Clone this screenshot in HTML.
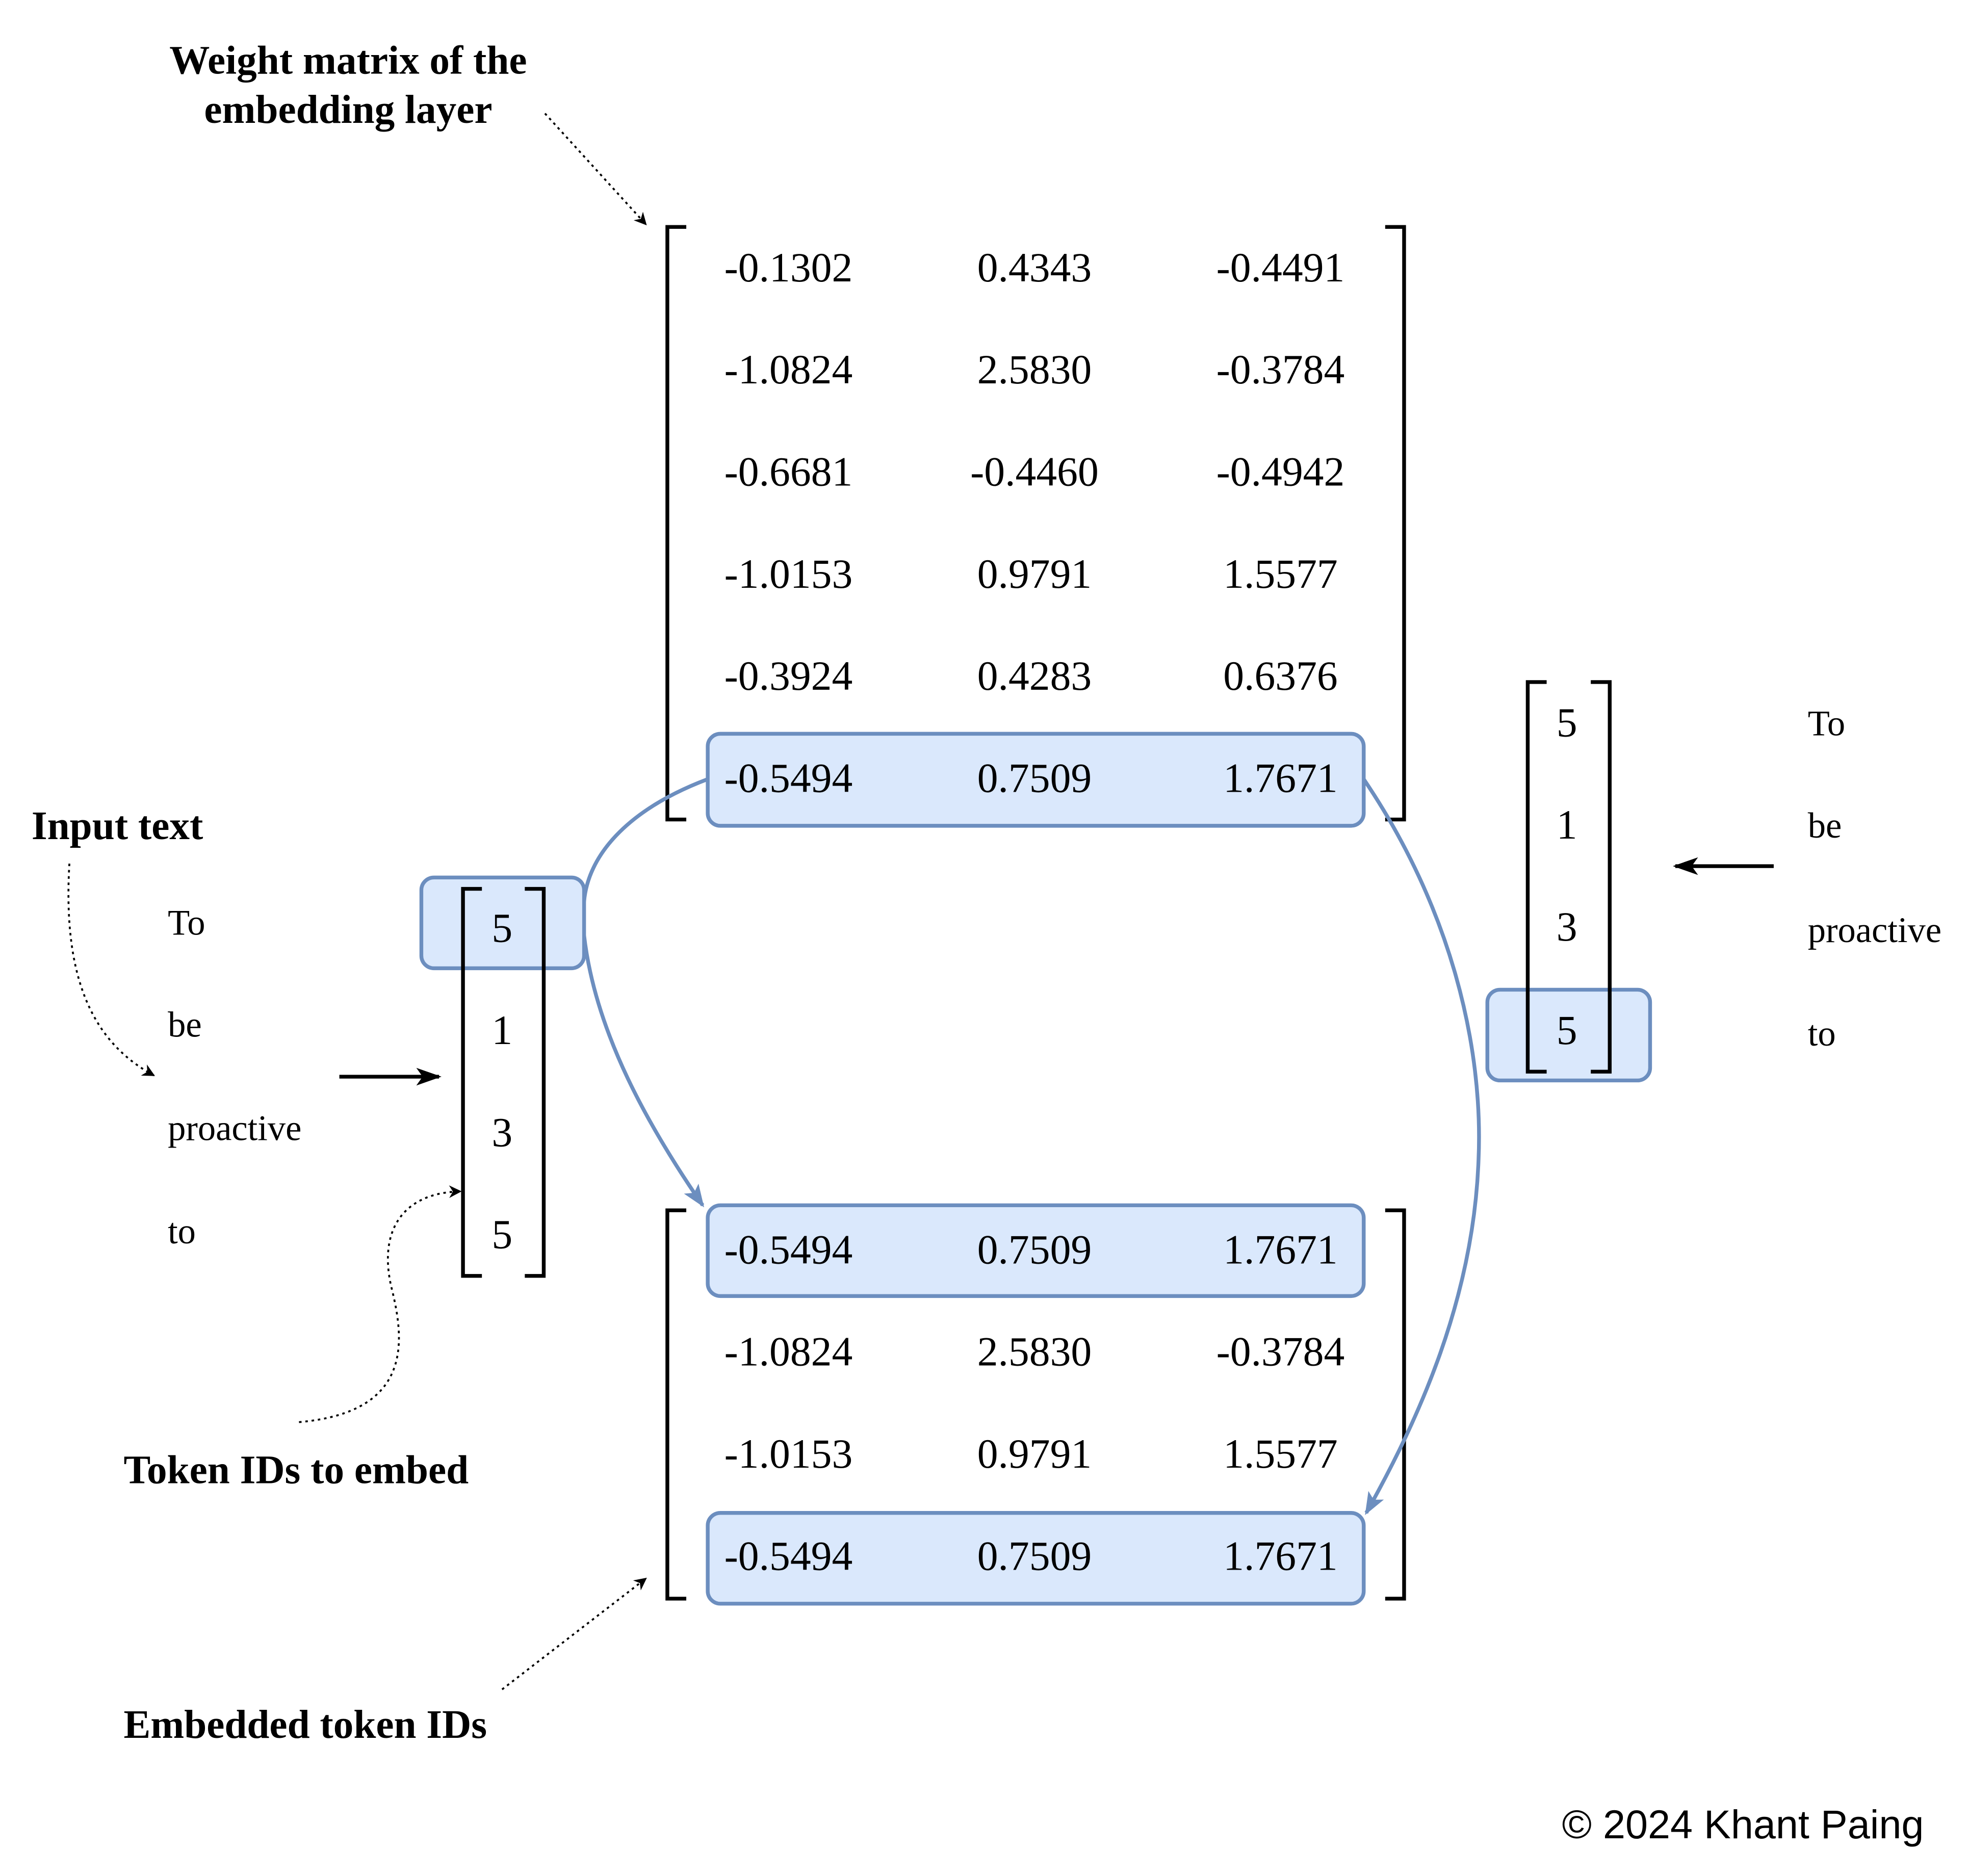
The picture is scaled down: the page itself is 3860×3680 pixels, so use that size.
<!DOCTYPE html>
<html><head><style>html,body{margin:0;padding:0;background:#fff}svg{display:block}</style></head><body>
<svg width="3860" height="3680" viewBox="0 0 1560 1488" preserveAspectRatio="none" xmlns="http://www.w3.org/2000/svg">
<defs>
<marker id="ab" markerWidth="10" markerHeight="10" refX="9" refY="5" orient="auto" markerUnits="userSpaceOnUse"><path d="M0,0 L10,5 L0,10 L3,5 z" fill="#000"/></marker>
<marker id="ak" markerWidth="20" markerHeight="14" refX="18" refY="7" orient="auto" markerUnits="userSpaceOnUse"><path d="M0,0 L20,7 L0,14 L5,7 z" fill="#000"/></marker>
<marker id="abl" markerWidth="18" markerHeight="14" refX="16" refY="7" orient="auto" markerUnits="userSpaceOnUse"><path d="M0,0 L18,7 L0,14 L4,7 z" fill="#6c8ebf"/></marker>
</defs>
<g fill="#dae8fc" stroke="#6c8ebf" stroke-width="3">
<rect x="561" y="582" width="520" height="73" rx="10"/>
<rect x="561" y="956" width="520" height="72" rx="10"/>
<rect x="561" y="1200" width="520" height="72" rx="10"/>
<rect x="334" y="696" width="129" height="72" rx="10"/>
<rect x="1179" y="785" width="129" height="72" rx="10"/>
</g>
<g fill="none" stroke="#000" stroke-width="3">
<path d="M544,180 H529 V650 H544"/><path d="M1098,180 H1113 V650 H1098"/>
<path d="M544,960 H529 V1268 H544"/><path d="M1098,960 H1113 V1268 H1098"/>
<path d="M382,705 H367 V1012 H382"/><path d="M416,705 H431 V1012 H416"/>
<path d="M1226,541 H1211 V850 H1226"/><path d="M1261,541 H1276 V850 H1261"/>
</g>
<g font-family="Liberation Serif, serif" font-size="33" text-anchor="middle" dominant-baseline="central" fill="#000">
<text x="625" y="212">-0.1302</text><text x="820" y="212">0.4343</text><text x="1015" y="212">-0.4491</text>
<text x="625" y="293">-1.0824</text><text x="820" y="293">2.5830</text><text x="1015" y="293">-0.3784</text>
<text x="625" y="374">-0.6681</text><text x="820" y="374">-0.4460</text><text x="1015" y="374">-0.4942</text>
<text x="625" y="455">-1.0153</text><text x="820" y="455">0.9791</text><text x="1015" y="455">1.5577</text>
<text x="625" y="536">-0.3924</text><text x="820" y="536">0.4283</text><text x="1015" y="536">0.6376</text>
<text x="625" y="617">-0.5494</text><text x="820" y="617">0.7509</text><text x="1015" y="617">1.7671</text>
<text x="625" y="991">-0.5494</text><text x="820" y="991">0.7509</text><text x="1015" y="991">1.7671</text>
<text x="625" y="1072">-1.0824</text><text x="820" y="1072">2.5830</text><text x="1015" y="1072">-0.3784</text>
<text x="625" y="1153">-1.0153</text><text x="820" y="1153">0.9791</text><text x="1015" y="1153">1.5577</text>
<text x="625" y="1234">-0.5494</text><text x="820" y="1234">0.7509</text><text x="1015" y="1234">1.7671</text>
<text x="398" y="736">5</text><text x="398" y="817">1</text><text x="398" y="898">3</text><text x="398" y="979">5</text>
<text x="1242" y="573">5</text><text x="1242" y="654">1</text><text x="1242" y="735">3</text><text x="1242" y="817">5</text>
</g>
<g font-family="Liberation Serif, serif" font-size="28.5" dominant-baseline="central" fill="#000">
<text x="133" y="732">To</text><text x="133" y="813">be</text><text x="133" y="895">proactive</text><text x="133" y="977">to</text>
<text x="1433" y="574">To</text><text x="1433" y="655">be</text><text x="1433" y="738">proactive</text><text x="1433" y="820">to</text>
</g>
<g font-family="Liberation Serif, serif" font-size="32" font-weight="bold" dominant-baseline="central" fill="#000">
<text x="276" y="48" text-anchor="middle">Weight matrix of the</text>
<text x="276" y="87" text-anchor="middle">embedding layer</text>
<text x="25" y="655">Input text</text>
<text x="98" y="1166">Token IDs to embed</text>
<text x="98" y="1368">Embedded token IDs</text>
</g>
<text x="1525" y="1447" text-anchor="end" dominant-baseline="central" font-family="Liberation Sans, sans-serif" font-size="32" fill="#000">© 2024 Khant Paing</text>
<g fill="none" stroke="#000" stroke-width="3">
<path d="M269,854 H348" marker-end="url(#ak)"/>
<path d="M1406,687 H1328" marker-end="url(#ak)"/>
</g>
<g fill="none" stroke="#000" stroke-width="1.5" stroke-dasharray="2,3">
<path d="M432,90 L512,178" marker-end="url(#ab)"/>
<path d="M55,685 C50,770 70,825 122,853" marker-end="url(#ab)"/>
<path d="M237,1128 C330,1120 320,1060 310,1020 C300,975 320,946 365,945" marker-end="url(#ab)"/>
<path d="M398,1340 L512,1252" marker-end="url(#ab)"/>
</g>
<g fill="none" stroke="#6c8ebf" stroke-width="3">
<path d="M561,618 C495,643 466,680 463,715"/>
<path d="M463,742 C472,820 515,895 557,956" marker-end="url(#abl)"/>
<path d="M1081,618 C1150,720 1176,830 1172,920 C1168,1030 1125,1125 1083,1200" marker-end="url(#abl)"/>
</g>
</svg>
</body></html>
